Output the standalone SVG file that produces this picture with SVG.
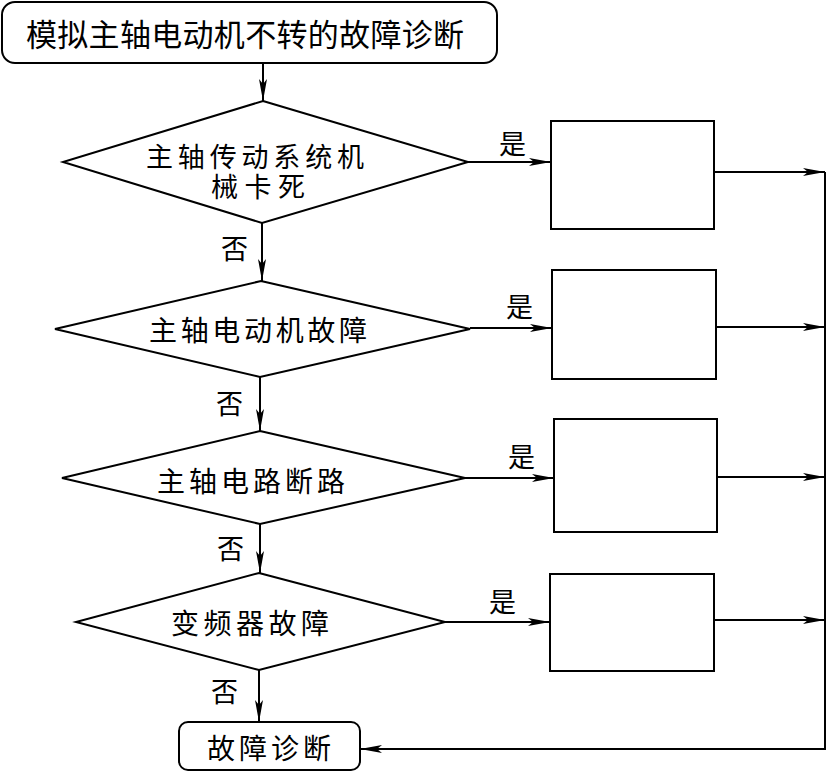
<svg xmlns="http://www.w3.org/2000/svg" width="828" height="772" viewBox="0 0 828 772">
<style>
.s{fill:#fff;stroke:#000;stroke-width:2}
.t{font-family:"Noto Sans CJK SC","Noto Sans CJK TC",sans-serif;fill:#000}
.c{fill:none;stroke:#000;stroke-width:2}
</style>
<defs>
<marker id="ah" markerUnits="userSpaceOnUse" markerWidth="24" markerHeight="10" refX="22" refY="4" orient="auto" viewBox="0 0 24 10">
<path d="M0,0 L22,4 L0,8 L5,4 z" fill="#000"/>
</marker>
</defs>
<rect width="828" height="772" fill="#fff"/>
<g id="start">
<rect class="s" x="2" y="2" width="495" height="61" rx="13"/>
<text class="t" x="26" y="46" font-size="31" textLength="438" lengthAdjust="spacing">模拟主轴电动机不转的故障诊断</text>
</g>
<g id="d1">
<polygon class="s" points="263,101 468,162 262,223 63,162"/>
<text class="t" x="146" y="167" font-size="27" textLength="218" lengthAdjust="spacing">主轴传动系统机</text>
<text class="t" x="211" y="197" font-size="27" textLength="94" lengthAdjust="spacing">械卡死</text>
</g>
<g id="d2">
<polygon class="s" points="261,281 470,329 260,377 55,329"/>
<text class="t" x="149" y="341" font-size="28" textLength="218" lengthAdjust="spacing">主轴电动机故障</text>
</g>
<g id="d3">
<polygon class="s" points="260,431 465,478 260,524 62,478"/>
<text class="t" x="157" y="492" font-size="28" textLength="188" lengthAdjust="spacing">主轴电路断路</text>
</g>
<g id="d4">
<polygon class="s" points="259,573 445,622 259,670 76,622"/>
<text class="t" x="171" y="634" font-size="28" textLength="158" lengthAdjust="spacing">变频器故障</text>
</g>
<g id="b1"><rect class="s" x="551" y="121" width="163" height="108"/></g>
<g id="b2"><rect class="s" x="552" y="270" width="164" height="109"/></g>
<g id="b3"><rect class="s" x="554" y="419" width="163" height="113"/></g>
<g id="b4"><rect class="s" x="550" y="574" width="164" height="97"/></g>
<g id="end">
<rect class="s" x="179" y="722" width="181" height="48" rx="9"/>
<text class="t" x="207" y="759" font-size="28" textLength="124" lengthAdjust="spacing">故障诊断</text>
</g>
<g id="connectors">
<line class="c" x1="263" y1="63" x2="263" y2="101" marker-end="url(#ah)"/>
<line class="c" x1="262" y1="223" x2="262" y2="281" marker-end="url(#ah)"/>
<line class="c" x1="260" y1="377" x2="260" y2="431" marker-end="url(#ah)"/>
<line class="c" x1="260" y1="524" x2="260" y2="573" marker-end="url(#ah)"/>
<line class="c" x1="259" y1="670" x2="259" y2="722" marker-end="url(#ah)"/>
<line class="c" x1="468" y1="162" x2="551" y2="162" marker-end="url(#ah)"/>
<line class="c" x1="470" y1="328" x2="552" y2="328" marker-end="url(#ah)"/>
<line class="c" x1="465" y1="478" x2="554" y2="478" marker-end="url(#ah)"/>
<line class="c" x1="445" y1="622" x2="550" y2="622" marker-end="url(#ah)"/>
<line class="c" x1="714" y1="172" x2="825" y2="172" marker-end="url(#ah)"/>
<line class="c" x1="716" y1="327" x2="825" y2="327" marker-end="url(#ah)"/>
<line class="c" x1="717" y1="477" x2="825" y2="477" marker-end="url(#ah)"/>
<line class="c" x1="714" y1="620" x2="825" y2="620" marker-end="url(#ah)"/>
<polyline class="c" points="825,172 825,749 360,749" marker-end="url(#ah)"/>
<text class="t" x="221" y="259" font-size="27">否</text>
<text class="t" x="216" y="414" font-size="27">否</text>
<text class="t" x="217" y="559" font-size="27">否</text>
<text class="t" x="211" y="702" font-size="27">否</text>
<text class="t" x="499" y="154" font-size="27">是</text>
<text class="t" x="506" y="317" font-size="27">是</text>
<text class="t" x="508" y="467" font-size="27">是</text>
<text class="t" x="489" y="612" font-size="27">是</text>
</g>
</svg>
